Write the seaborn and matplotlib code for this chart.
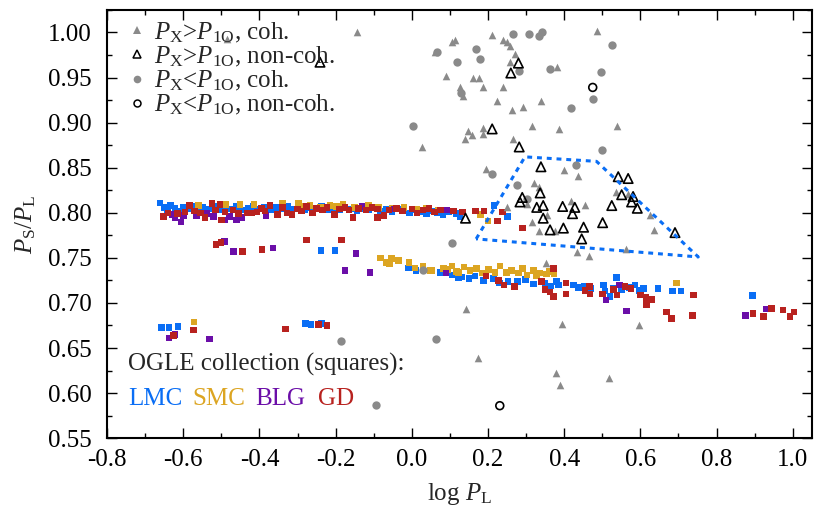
import numpy as np
import pandas as pd
import matplotlib
matplotlib.use("Agg")
import matplotlib.pyplot as plt
from matplotlib.lines import Line2D
from matplotlib.ticker import MultipleLocator
import seaborn as sns

# ------------------------------------------------------------
# OGLE collection (squares): log P_L and P_S/P_L per field
# ------------------------------------------------------------
lmc_x = [-0.661, -0.650, -0.641, -0.633, -0.622, -0.611, -0.600, -0.588, -0.574, -0.561,
         -0.549, -0.533, -0.519, -0.506, -0.492, -0.476, -0.461, -0.447, -0.430, -0.416,
         -0.400, -0.387, -0.371, -0.356, -0.342, -0.326, -0.311, -0.297, -0.282, -0.268,
         -0.252, -0.237, -0.221, -0.206, -0.190, -0.176, -0.160, -0.144, -0.129, -0.113,
         -0.098, -0.083, -0.068, -0.052, -0.037, -0.021, -0.006, 0.009, 0.024, 0.039,
         0.053, 0.067, 0.082, 0.097, 0.118, 0.126, 0.216, 0.251,
         -0.657, -0.638, -0.614, -0.279, -0.265, -0.237, -0.238, -0.201,
         -0.009, 0.011, 0.074, 0.107, 0.122, 0.131, 0.150, 0.166, 0.188, 0.214,
         0.230, 0.253, 0.277, 0.299, 0.320, 0.350, 0.365, 0.380, 0.385, 0.424,
         0.437, 0.452, 0.470, 0.503, 0.507, 0.520, 0.530, 0.538, 0.551, 0.570,
         0.586, 0.597, 0.608, 0.647, 0.685, 0.707, 0.895]
lmc_y = [0.811, 0.806, 0.803, 0.808, 0.805, 0.802, 0.806, 0.804, 0.807, 0.803,
         0.806, 0.804, 0.807, 0.803, 0.806, 0.804, 0.807, 0.803, 0.805, 0.807,
         0.804, 0.806, 0.803, 0.806, 0.804, 0.807, 0.804, 0.806, 0.803, 0.806,
         0.804, 0.807, 0.803, 0.805, 0.803, 0.806, 0.804, 0.802, 0.805, 0.803,
         0.806, 0.802, 0.804, 0.801, 0.804, 0.802, 0.800, 0.803, 0.801, 0.799,
         0.802, 0.800, 0.798, 0.801, 0.799, 0.796, 0.808, 0.796,
         0.673, 0.673, 0.674, 0.677, 0.676, 0.677, 0.758, 0.758,
         0.739, 0.736, 0.734, 0.731, 0.728, 0.729, 0.727, 0.730, 0.725, 0.727,
         0.722, 0.724, 0.724, 0.726, 0.721, 0.722, 0.719, 0.724, 0.720, 0.720,
         0.717, 0.719, 0.716, 0.720, 0.713, 0.707, 0.716, 0.728, 0.715, 0.717,
         0.720, 0.714, 0.716, 0.716, 0.713, 0.713, 0.708]

smc_x = [-0.560, -0.488, -0.451, -0.414, -0.340, -0.298, -0.291, -0.267, -0.240, -0.215,
         -0.197, -0.180, -0.150, -0.114, -0.088, -0.050, -0.020, 0.013, 0.039, 0.070,
         0.180, 0.200, -0.572,
         -0.082, -0.068, -0.059, -0.053, -0.035, -0.007, 0.008, 0.030, 0.048, 0.052,
         0.083, 0.095, 0.105, 0.118, 0.122, 0.137, 0.153, 0.170, 0.185, 0.201,
         0.218, 0.231, 0.249, 0.262, 0.280, 0.290, 0.302, 0.319, 0.328, 0.337,
         0.354, 0.362, 0.373, 0.695]
smc_y = [0.808, 0.809, 0.809, 0.809, 0.810, 0.810, 0.807, 0.808, 0.806, 0.808,
         0.807, 0.809, 0.806, 0.808, 0.806, 0.805, 0.806, 0.804, 0.805, 0.803,
         0.798, 0.791, 0.679,
         0.750, 0.745, 0.743, 0.749, 0.747, 0.745, 0.739, 0.741, 0.736, 0.736,
         0.738, 0.737, 0.741, 0.735, 0.734, 0.740, 0.736, 0.738, 0.733, 0.737,
         0.734, 0.741, 0.734, 0.736, 0.733, 0.738, 0.731, 0.736, 0.730, 0.733,
         0.732, 0.735, 0.732, 0.722]

blg_x = [-0.630, -0.622, -0.606, -0.600, -0.565, -0.538, -0.520, -0.490, -0.479, -0.460,
         -0.446, -0.383, -0.131, -0.046, 0.092,
         -0.492, -0.468, -0.365, -0.147, -0.175, -0.110, -0.638, -0.622, -0.531,
         0.090, 0.545, 0.510, 0.564, 0.876, 0.931]
blg_y = [0.798, 0.794, 0.790, 0.797, 0.797, 0.799, 0.796, 0.792, 0.796, 0.792,
         0.795, 0.797, 0.807, 0.804, 0.803,
         0.768, 0.757, 0.761, 0.755, 0.736, 0.734, 0.661, 0.665, 0.660,
         0.733, 0.720, 0.703, 0.691, 0.686, 0.693]

gd_x = [-0.652, -0.640, -0.615, -0.595, -0.584, -0.570, -0.555, -0.543, -0.525, -0.515,
        -0.503, -0.499, -0.490, -0.470, -0.455, -0.433, -0.420, -0.407, -0.395, -0.385,
        -0.372, -0.353, -0.340, -0.328, -0.315, -0.300, -0.290, -0.276, -0.261, -0.250,
        -0.235, -0.222, -0.203, -0.190, -0.175, -0.165, -0.154, -0.140, -0.120, -0.105,
        -0.090, -0.090, -0.073, -0.060, -0.040, -0.025, 0.000, 0.014, 0.030, 0.045,
        0.060, 0.075, 0.110, 0.133, 0.167, 0.189, 0.225, 0.238, 0.290,
        -0.514, -0.501, -0.444, -0.393, -0.276, -0.184,
        -0.626, -0.573, -0.331, -0.245, -0.223,
        0.195, 0.227, 0.242, 0.269, 0.341, 0.350, 0.363, 0.372, 0.372, 0.405,
        0.405, 0.455, 0.466, 0.468, 0.500, 0.529, 0.539, 0.560, 0.575, 0.601,
        0.615, 0.629, 0.616, 0.669, 0.682, 0.737, 0.739, 0.896, 0.923, 0.945,
        0.975, 0.993, 1.004]
gd_y = [0.796, 0.800, 0.799, 0.801, 0.808, 0.802, 0.800, 0.795, 0.810, 0.803,
        0.809, 0.792, 0.801, 0.803, 0.799, 0.800, 0.800, 0.801, 0.805, 0.802,
        0.808, 0.798, 0.806, 0.800, 0.798, 0.804, 0.802, 0.807, 0.800, 0.805,
        0.803, 0.806, 0.798, 0.804, 0.806, 0.803, 0.795, 0.805, 0.803, 0.806,
        0.804, 0.795, 0.797, 0.803, 0.805, 0.802, 0.804, 0.800, 0.803, 0.805,
        0.801, 0.803, 0.802, 0.801, 0.802, 0.802, 0.791, 0.801, 0.783,
        0.765, 0.767, 0.757, 0.759, 0.770, 0.770,
        0.664, 0.670, 0.671, 0.676, 0.675,
        0.730, 0.725, 0.720, 0.718, 0.724, 0.715, 0.712, 0.707, 0.738, 0.722,
        0.710, 0.714, 0.718, 0.710, 0.710, 0.715, 0.709, 0.718, 0.716, 0.709,
        0.706, 0.704, 0.698, 0.690, 0.683, 0.686, 0.709, 0.688, 0.685, 0.694,
        0.692, 0.685, 0.690]

# ------------------------------------------------------------
# Stars with additional periodicity
# ------------------------------------------------------------
# P_X > P_1O, coherent (grey filled triangles)
gt_coh_x = [-0.486, -0.145, 0.210, 0.240, 0.249, 0.258, 0.105, 0.113, 0.061, 0.271,
            0.258, 0.090, 0.161, 0.176, 0.380, 0.485, 0.127, 0.135, 0.188, 0.239,
            0.224, 0.264, 0.292, 0.340, 0.026, 0.148, 0.157, 0.140, 0.186, 0.186,
            0.316, 0.386, 0.540, 0.266, 0.194, 0.400, 0.437, 0.321, 0.334, 0.536,
            0.567, 0.418, 0.456, 0.302, 0.249, 0.354, 0.315, 0.334, 0.376, 0.625,
            0.636, 0.435, 0.466, 0.562, 0.352, 0.142, 0.395, 0.597, 0.175, 0.379,
            0.388, 0.519]
gt_coh_y = [0.993, 1.000, 0.997, 0.992, 0.989, 0.985, 0.989, 0.992, 0.978, 0.976,
            0.967, 0.952, 0.950, 0.949, 0.962, 1.002, 0.940, 0.929, 0.940, 0.939,
            0.924, 0.914, 0.917, 0.924, 0.873, 0.891, 0.886, 0.882, 0.894, 0.887,
            0.896, 0.893, 0.896, 0.882, 0.848, 0.847, 0.841, 0.833, 0.829, 0.823,
            0.821, 0.813, 0.809, 0.810, 0.806, 0.798, 0.790, 0.780, 0.780, 0.797,
            0.781, 0.757, 0.752, 0.760, 0.744, 0.693, 0.677, 0.676, 0.639, 0.622,
            0.609, 0.617]

# P_X > P_1O, non-coherent (open triangles)
gt_non_x = [-0.241, 0.280, 0.260, 0.211, 0.282, 0.339, 0.337, 0.290, 0.284, 0.328,
            0.345, 0.345, 0.396, 0.428, 0.422, 0.363, 0.398, 0.451, 0.446, 0.501,
            0.141, 0.542, 0.568, 0.551, 0.581, 0.577, 0.525, 0.592, 0.691]
gt_non_y = [0.967, 0.966, 0.955, 0.893, 0.873, 0.851, 0.822, 0.817, 0.812, 0.806,
            0.808, 0.794, 0.807, 0.806, 0.799, 0.781, 0.783, 0.784, 0.771, 0.789,
            0.794, 0.840, 0.838, 0.820, 0.818, 0.812, 0.808, 0.805, 0.778]

# P_X < P_1O, coherent (grey filled circles)
lt_coh_x = [0.266, 0.308, 0.335, 0.343, 0.067, 0.169, 0.118, 0.179, 0.281, 0.363,
            0.525, 0.498, 0.128, 0.476, 0.417, 0.004, 0.500, 0.210, 0.277, 0.303,
            0.431, 0.105, 0.030, 0.063, -0.187, -0.094]
lt_coh_y = [0.998, 0.998, 0.996, 1.000, 0.978, 0.982, 0.967, 0.971, 0.957, 0.960,
            0.986, 0.956, 0.933, 0.926, 0.916, 0.896, 0.870, 0.843, 0.831, 0.815,
            0.853, 0.767, 0.736, 0.660, 0.658, 0.587]

# P_X < P_1O, non-coherent (open circles)
lt_non_x = [0.475, 0.231]
lt_non_y = [0.939, 0.586]

# outline of the highlighted group
box_x = [0.169, 0.297, 0.485, 0.752, 0.169]
box_y = [0.771, 0.862, 0.857, 0.751, 0.771]

fields = ['LMC', 'SMC', 'BLG', 'GD']
field_colors = {'LMC': '#0a6ef5', 'SMC': '#dca522', 'BLG': '#6b0ea8', 'GD': '#b8221f'}
grey = '#8a8a8a'

ogle = pd.concat([
    pd.DataFrame({'logP': lmc_x, 'ratio': lmc_y, 'field': 'LMC'}),
    pd.DataFrame({'logP': smc_x, 'ratio': smc_y, 'field': 'SMC'}),
    pd.DataFrame({'logP': blg_x, 'ratio': blg_y, 'field': 'BLG'}),
    pd.DataFrame({'logP': gd_x, 'ratio': gd_y, 'field': 'GD'}),
], ignore_index=True)

# ------------------------------------------------------------
# Style
# ------------------------------------------------------------
sns.set_style('ticks')
plt.rcParams['font.family'] = ['Liberation Serif', 'DejaVu Serif']
plt.rcParams['mathtext.fontset'] = 'custom'
plt.rcParams['mathtext.rm'] = 'Liberation Serif'
plt.rcParams['mathtext.it'] = 'Liberation Serif:italic'
plt.rcParams['axes.unicode_minus'] = False
fs = 18

fig = plt.figure(figsize=(8.3, 5.21), dpi=100)
ax = fig.add_axes([0.129, 0.159, 0.849, 0.822])

sns.scatterplot(data=ogle, x='logP', y='ratio', hue='field', palette=field_colors,
                marker='s', s=22, linewidth=0, legend=False, ax=ax, zorder=2)

sns.scatterplot(x=gt_coh_x, y=gt_coh_y, marker='^', s=30, color=grey, linewidth=0,
                ax=ax, zorder=3)
sns.scatterplot(x=lt_coh_x, y=lt_coh_y, marker='o', s=36, color=grey, linewidth=0,
                ax=ax, zorder=3)
ax.scatter(gt_non_x, gt_non_y, marker='^', s=46, facecolors='none', edgecolors='black',
           linewidths=1.2, zorder=4)
ax.scatter(lt_non_x, lt_non_y, marker='o', s=32, facecolors='none', edgecolors='black',
           linewidths=1.2, zorder=4)

ax.plot(box_x, box_y, color='#0a6ef5', lw=2.2, linestyle=(0, (1.6, 1.6)), zorder=5)

ax.set_xlim(-0.8, 1.05)
ax.set_ylim(0.55, 1.025)
ax.xaxis.set_major_locator(MultipleLocator(0.2))
ax.xaxis.set_minor_locator(MultipleLocator(0.1))
ax.yaxis.set_major_locator(MultipleLocator(0.05))
ax.yaxis.set_minor_locator(MultipleLocator(0.025))
ax.xaxis.set_major_formatter(plt.FuncFormatter(lambda v, p: f'{v:.1f}'))
ax.yaxis.set_major_formatter(plt.FuncFormatter(lambda v, p: f'{v:.2f}'))
ax.tick_params(which='both', direction='in', top=True, right=True, labelsize=fs,
               width=1.0, colors='black')
ax.tick_params(which='major', length=7)
ax.tick_params(which='minor', length=3.5)
ax.tick_params(axis='x', which='major', pad=8)
ax.tick_params(axis='y', which='major', pad=11)
for sp in ax.spines.values():
    sp.set_linewidth(1.5)
    sp.set_color('black')

ax.set_xlabel(r'log $P_{\rm L}$', fontsize=fs, labelpad=7)
ax.set_ylabel(r'$P_{\rm S}/P_{\rm L}$', fontsize=fs, labelpad=7)

handles = [
    Line2D([], [], ls='none', marker='^', ms=5.5, mfc=grey, mec=grey, mew=0),
    Line2D([], [], ls='none', marker='^', ms=6, mfc='none', mec='black', mew=1.1),
    Line2D([], [], ls='none', marker='o', ms=5.5, mfc=grey, mec=grey, mew=0),
    Line2D([], [], ls='none', marker='o', ms=5, mfc='none', mec='black', mew=1.1),
]
labels = [r'$P_{\rm X}$>$P_{\rm 1O}$, coh.', r'$P_{\rm X}$>$P_{\rm 1O}$, non-coh.',
          r'$P_{\rm X}$<$P_{\rm 1O}$, coh.', r'$P_{\rm X}$<$P_{\rm 1O}$, non-coh.']
ax.legend(handles, labels, loc='upper left', bbox_to_anchor=(0.02, 0.993),
          frameon=False, fontsize=fs, handlelength=0.7, handletextpad=0.3,
          labelspacing=0.0, borderaxespad=0.0, borderpad=0.3)

ax.text(0.030, 0.171, 'OGLE collection (squares):', transform=ax.transAxes,
        fontsize=fs, va='center', ha='left')
for name, xpos in zip(fields, [0.030, 0.121, 0.210, 0.299]):
    ax.text(xpos, 0.091, name, transform=ax.transAxes, fontsize=fs,
            va='center', ha='left', color=field_colors[name])

fig.savefig('out.png', dpi=100)
